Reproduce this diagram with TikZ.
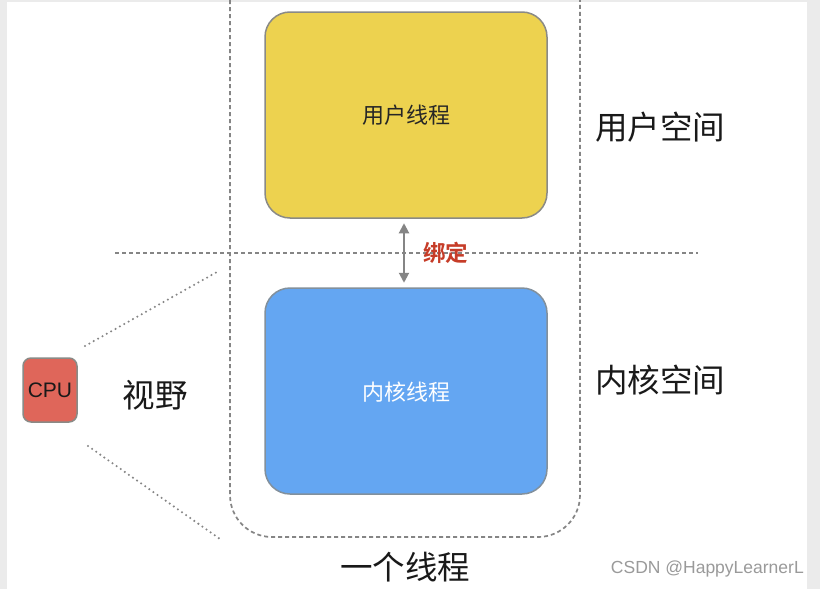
\documentclass[tikz,border=0pt]{standalone}
\usepackage{fontspec}
\setmainfont{Liberation Sans}
\newfontfamily\cjk{Noto Sans CJK SC}
\newfontfamily\cjkb{Noto Sans CJK SC}[BoldFont={Noto Sans CJK SC Bold}]
\usetikzlibrary{arrows.meta}
\definecolor{uyellow}{HTML}{EDD24F}
\definecolor{kblue}{HTML}{64A6F2}
\definecolor{cpured}{HTML}{DF665A}
\definecolor{bordergrey}{HTML}{8A8A86}
\definecolor{lineg}{HTML}{858585}
\definecolor{bindred}{HTML}{C63C28}
\definecolor{stripg}{HTML}{EBEBEB}
\definecolor{wm}{HTML}{9A9A9A}
\begin{document}
\begin{tikzpicture}[x=1pt,y=-1pt,
  threadbox/.style={draw=bordergrey,line width=1.5pt,rounded corners=25pt,minimum width=282pt,minimum height=206pt,inner sep=0pt},
  bigtxt/.style={font=\cjk\fontsize{32.5}{32.5}\selectfont,text=black!90,inner sep=0pt},
  dashg/.style={draw=lineg,line width=1.7pt,dash pattern=on 4pt off 3pt},
  dotg/.style={draw=lineg,line width=2.3pt,line cap=round,dash pattern=on 0pt off 5pt}]
\useasboundingbox (0,0) rectangle (820,589);
\fill[white] (0,0) rectangle (820,589);
\fill[stripg] (0,0) rectangle (7,589);
\fill[stripg] (807,0) rectangle (820,589);
\fill[stripg] (7,0) rectangle (807,1.5);
% outer dashed thread outline (open at top)
\coordinate (otl) at (230,0);
\coordinate (otr) at (580,0);
\draw[dashg,rounded corners=42pt] (otl) -- (230,537) -- (580,537) -- (otr);
% space divider
\coordinate (dl) at (115,253);
\coordinate (dr) at (698,253);
\draw[dashg] (dl) -- (dr);
% boxes
\node[threadbox,fill=uyellow] (user) at (406,115) {};
\node[font=\cjk\fontsize{22}{22}\selectfont,text=black!85] (usert) at (406,115) {用户线程};
\node[threadbox,fill=kblue,draw=bordergrey!80!kblue] (kernel) at (406,391) {};
\node[font=\cjk\fontsize{22}{22}\selectfont,text=white] (kernelt) at (406,392) {内核线程};
% binding arrow
\draw[draw=lineg,line width=2pt,{Triangle[length=10pt,width=10pt]}-{Triangle[length=10pt,width=10pt]}] ([xshift=-2pt,yshift=-4.5pt]user.south) -- ([xshift=-2pt,yshift=4.5pt]kernel.north);
\node[font=\cjkb\bfseries\fontsize{22.5}{22.5}\selectfont,text=bindred,inner sep=0pt] (bind) at (445.5,253) {绑定};
% space labels
\node[bigtxt] (us) at (660,127) {用户空间};
\node[bigtxt] (ks) at (660,380) {内核空间};
\node[bigtxt] (one) at (405,567) {一个线程};
% CPU
\node[draw=bordergrey,line width=1.5pt,fill=cpured,rounded corners=8pt,minimum width=54pt,minimum height=64pt,inner sep=0pt,font=\fontsize{21}{21}\selectfont,text=black!90] (cpu) at (50,390) {CPU};
\node[bigtxt] (view) at (155,395) {视野};
\coordinate (vt1) at (85,346);
\coordinate (vt2) at (217,272);
\coordinate (vb1) at (88,446);
\coordinate (vb2) at (220,539);
\draw[dotg] (vt1) -- (vt2);
\draw[dotg] (vb1) -- (vb2);
% watermark
\node[font=\fontsize{17.5}{17.5}\selectfont,text=wm,anchor=east,inner sep=0pt] (wmk) at (804,569) {CSDN @HappyLearnerL};
\end{tikzpicture}
\end{document}
